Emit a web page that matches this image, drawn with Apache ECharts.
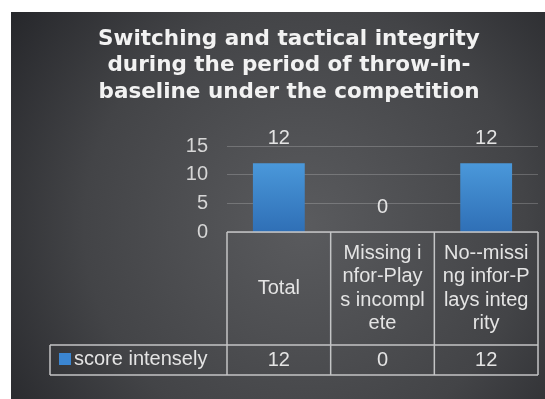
<!DOCTYPE html>
<html>
<head>
<meta charset="utf-8">
<script src="https://cdn.jsdelivr.net/npm/echarts@6/dist/echarts.min.js"></script>
<style>
html, body { margin: 0; padding: 0; background: #fff; }
#chart { width: 545px; height: 399px; }
</style>
</head>
<body>
<div id="chart"></div>
<script>
// data
const titleLines = ['Switching and tactical integrity', 'during the period of throw-in-', 'baseline under the competition']
const categories = ['Total', 'Missing infor-Plays incomplete', 'No--missing infor-Plays integrity']
const seriesName = 'score intensely'
const scoreValues = [12, 0, 12]
const yMin = 0
const yMax = 15
const yStep = 5

const FONT = '"Liberation Sans", Arial, sans-serif'
const TEXT = '#e4e4e4'
const LINE = '#c4c5c6'

const myChart = echarts.init(document.getElementById('chart'))

let option = {
	backgroundColor: '#ffffff',
	animation: false,
	legend: {
		left: 59,
		top: 349,
		padding: 0,
		itemWidth: 12,
		itemHeight: 12,
		icon: 'rect',
		selectedMode: false,
		data: [{ name: seriesName, itemStyle: { color: '#3b86d2' } }],
		textStyle: { fontFamily: FONT, fontSize: 20, color: TEXT, padding: [0, 0, 0, -2] }
	},
	grid: {
		left: 227,
		right: 7,
		top: 146,
		bottom: 167
	},
	xAxis: {
		type: 'category',
		data: categories,
		axisLine: { show: false },
		axisTick: { show: false },
		axisLabel: {
			interval: 0,
			margin: 56.5,
			verticalAlign: 'middle',
			width: 88,
			overflow: 'breakAll',
			fontFamily: FONT,
			fontSize: 20,
			lineHeight: 23.5,
			color: TEXT,
			align: 'center'
		}
	},
	yAxis: {
		type: 'value',
		min: yMin,
		max: yMax,
		interval: yStep,
		axisLine: { show: false },
		axisTick: { show: false },
		splitLine: { lineStyle: { color: 'rgba(255,255,255,0.2)', width: 1 } },
		axisLabel: { margin: 19, fontFamily: FONT, fontSize: 20, color: '#d6d6d6' }
	},
	series: [{
		name: seriesName,
		type: 'bar',
		data: scoreValues,
		barWidth: '50%',
		itemStyle: {
			color: new echarts.graphic.LinearGradient(0, 0, 0, 1, [
				{ offset: 0, color: '#4a98da' },
				{ offset: 1, color: '#2f6fb6' }
			])
		},
		label: {
			show: true,
			position: 'top',
			distance: 15,
			fontFamily: FONT,
			fontSize: 20,
			color: TEXT
		}
	}]
}

myChart.setOption(option)

// table under the plot, placed from the axes
const x0 = myChart.convertToPixel({ xAxisIndex: 0 }, 0)
const x1 = myChart.convertToPixel({ xAxisIndex: 0 }, 1)
const bw = x1 - x0
const tableLeft = x0 - bw / 2
const tableRight = tableLeft + bw * categories.length
const yTop = myChart.convertToPixel({ yAxisIndex: 0 }, 0)
const yRow = yTop + 113
const yBottom = yRow + 30
const legendLeft = 50

let graphics = []

// panel background
graphics.push({
	type: 'rect',
	z: -10,
	shape: { x: 11, y: 12, width: 534, height: 387 },
	style: {
		fill: new echarts.graphic.RadialGradient(0.55, 0.55, 0.95, [
			{ offset: 0, color: '#5a5b5e' },
			{ offset: 0.6, color: '#434447' },
			{ offset: 1, color: '#25262a' }
		])
	},
	silent: true
})

// title
graphics.push({
	type: 'text',
	x: 289,
	y: 26,
	style: {
		text: titleLines.join('\n'),
		font: 'bold 21.5px "DejaVu Sans", sans-serif',
		fill: '#f2f2f2',
		align: 'center',
		verticalAlign: 'top',
		lineHeight: 26.5
	},
	silent: true
})

function hline(xa, xb, y) {
	return { type: 'line', z: 10, shape: { x1: xa, y1: y, x2: xb, y2: y }, style: { stroke: LINE, lineWidth: 1.5 }, silent: true }
}
function vline(x, ya, yb) {
	return { type: 'line', z: 10, shape: { x1: x, y1: ya, x2: x, y2: yb }, style: { stroke: LINE, lineWidth: 1.5 }, silent: true }
}

graphics.push(hline(tableLeft, tableRight, yTop))
graphics.push(hline(legendLeft, tableRight, yRow))
graphics.push(hline(legendLeft, tableRight, yBottom))
graphics.push(vline(legendLeft, yRow, yBottom))
for (let i = 0; i <= categories.length; i++) {
	graphics.push(vline(tableLeft + bw * i, yTop, yBottom))
}

// value row
for (let i = 0; i < scoreValues.length; i++) {
	graphics.push({
		type: 'text',
		z: 10,
		x: tableLeft + bw * i + bw / 2,
		y: (yRow + yBottom) / 2,
		style: {
			text: String(scoreValues[i]),
			font: '20px ' + FONT,
			fill: TEXT,
			align: 'center',
			verticalAlign: 'middle'
		},
		silent: true
	})
}

myChart.setOption({ graphic: graphics })
</script>
</body>
</html>
